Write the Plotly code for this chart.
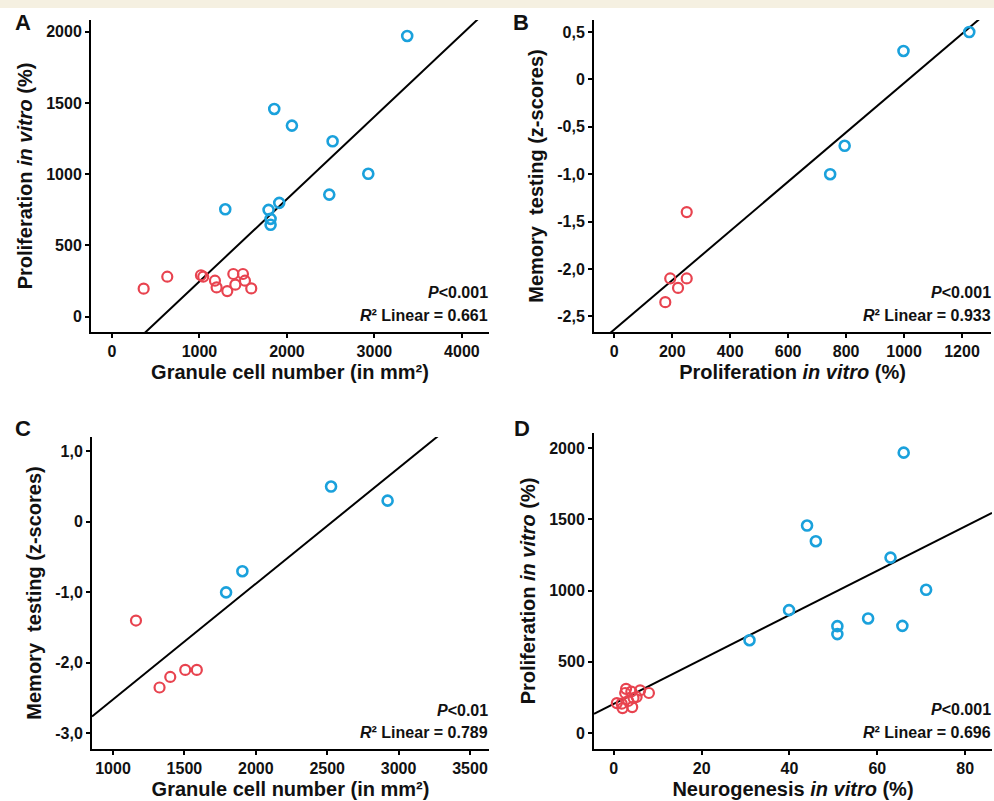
import plotly.graph_objects as go

W, H = 994, 801

# ---------------- data ----------------
# Panel A: granule cell number vs proliferation in vitro
a_blue_x = [3375, 1855, 2057, 2522, 2930, 2484, 1295, 1790, 1912, 1813, 1813]
a_blue_y = [1970, 1458, 1341, 1231, 1003, 857, 754, 750, 799, 687, 645]
a_red_x = [362, 632, 1017, 1043, 1177, 1196, 1318, 1387, 1410, 1497, 1520, 1592]
a_red_y = [197, 281, 291, 281, 253, 206, 180, 300, 225, 300, 253, 199]
a_fit = [-330, 0.578]          # intercept, slope
a_stats = ["P<0.001", "0.661"]

# Panel B: proliferation in vitro vs memory testing
b_blue_x = [1225, 998, 795, 745]
b_blue_y = [0.5, 0.30, -0.70, -1.0]
b_red_x = [250, 193, 250, 220, 176]
b_red_y = [-1.40, -2.10, -2.10, -2.20, -2.35]
b_fit = [-2.639, 0.0026]
b_stats = ["P<0.001", "0.933"]
b_tickvals = [0.5, 0, -0.5, -1.0, -1.5, -2.0, -2.5]
b_ticktext = ["0,5", "0", "-0,5", "-1,0", "-1,5", "-2,0", "-2,5"]

# Panel C: granule cell number vs memory testing
c_blue_x = [2527, 2923, 1906, 1792]
c_blue_y = [0.5, 0.30, -0.70, -1.0]
c_red_x = [1161, 1326, 1401, 1506, 1587]
c_red_y = [-1.40, -2.35, -2.20, -2.10, -2.10]
c_fit = [-4.16, 0.001641]
c_stats = ["P<0.01", "0.789"]
c_tickvals = [1.0, 0, -1.0, -2.0, -3.0]
c_ticktext = ["1,0", "0", "-1,0", "-2,0", "-3,0"]

# Panel D: neurogenesis in vitro vs proliferation in vitro
d_blue_x = [66.0, 44.0, 46.0, 63.0, 71.1, 39.9, 30.9, 50.9, 50.9, 57.9, 65.7]
d_blue_y = [1967, 1456, 1346, 1231, 1005, 862, 651, 750, 694, 804, 752]
d_red_x = [0.7, 8.0, 4.0, 2.6, 5.2, 1.8, 2.0, 6.0, 3.3, 2.8, 4.5, 4.2]
d_red_y = [210, 281, 291, 281, 253, 206, 175, 300, 225, 310, 245, 182]
d_fit = [205, 15.56]
d_stats = ["P<0.001", "0.696"]

# ---------------- styling ----------------
BLUE = "#1aa1dc"
RED = "#e8434f"
FONT = "Liberation Sans, Arial, sans-serif"


def px_x(p):
    return p / W


def px_y(p):
    return 1 - p / H


panels = [
    dict(name="A", bx=a_blue_x, by=a_blue_y, rx=a_red_x, ry=a_red_y, fit=a_fit, stats=a_stats,
         xdom=(91, 489), ydom=(20, 332), xr=(-240, 4310), yr=(-107, 2082),
         xtitle="Granule cell number (in mm²)", ytitle="Proliferation <i>in vitro</i> (%)",
         xticks=dict(tickvals=[0, 1000, 2000, 3000, 4000]),
         yticks=dict(tickvals=[0, 500, 1000, 1500, 2000]),
         letter=(23, 23), ann_x=490, ann_y=(292, 315)),
    dict(name="B", bx=b_blue_x, by=b_blue_y, rx=b_red_x, ry=b_red_y, fit=b_fit, stats=b_stats,
         xdom=(594, 991), ydom=(20, 332), xr=(-70, 1300), yr=(-2.665, 0.627),
         xtitle="Proliferation <i>in vitro</i> (%)", ytitle="Memory  testing (z-scores)",
         xticks=dict(tickvals=[0, 200, 400, 600, 800, 1000, 1200]),
         yticks=dict(tickvals=b_tickvals, ticktext=b_ticktext),
         letter=(521, 23), ann_x=993, ann_y=(292, 315)),
    dict(name="C", bx=c_blue_x, by=c_blue_y, rx=c_red_x, ry=c_red_y, fit=c_fit, stats=c_stats,
         xdom=(92, 489), ydom=(437, 749), xr=(853, 3633), yr=(-3.222, 1.203),
         xtitle="Granule cell number (in mm²)", ytitle="Memory  testing (z-scores)",
         xticks=dict(tickvals=[1000, 1500, 2000, 2500, 3000, 3500]),
         yticks=dict(tickvals=c_tickvals, ticktext=c_ticktext),
         letter=(23, 428), ann_x=490, ann_y=(710, 732)),
    dict(name="D", bx=d_blue_x, by=d_blue_y, rx=d_red_x, ry=d_red_y, fit=d_fit, stats=d_stats,
         xdom=(594, 992), ydom=(433, 749), xr=(-4.5, 86.1), yr=(-112, 2105),
         xtitle="Neurogenesis <i>in vitro</i> (%)", ytitle="Proliferation <i>in vitro</i> (%)",
         xticks=dict(tickvals=[0, 20, 40, 60, 80]),
         yticks=dict(tickvals=[0, 500, 1000, 1500, 2000]),
         letter=(522, 428), ann_x=993, ann_y=(709, 732)),
]

fig = go.Figure()
annotations = []
layout = {}

for i, p in enumerate(panels, start=1):
    sfx = "" if i == 1 else str(i)
    xa, ya = "x" + sfx, "y" + sfx
    # regression line over the axis range (clipped to plot area)
    x0, x1 = p["xr"]
    b0, b1 = p["fit"]
    fig.add_trace(go.Scatter(x=[x0, x1], y=[b0 + b1 * x0, b0 + b1 * x1], mode="lines",
                             line=dict(color="black", width=2), xaxis=xa, yaxis=ya,
                             showlegend=False, hoverinfo="skip"))
    fig.add_trace(go.Scatter(x=p["rx"], y=p["ry"], mode="markers",
                             marker=dict(symbol="circle-open", size=10, color=RED,
                                         line=dict(width=2.2, color=RED)),
                             xaxis=xa, yaxis=ya, showlegend=False))
    fig.add_trace(go.Scatter(x=p["bx"], y=p["by"], mode="markers",
                             marker=dict(symbol="circle-open", size=10, color=BLUE,
                                         line=dict(width=2.6, color=BLUE)),
                             xaxis=xa, yaxis=ya, showlegend=False))
    axis_common = dict(showline=True, linecolor="black", linewidth=2, ticks="outside",
                       ticklen=4, tickwidth=1.5, tickcolor="black", showgrid=False,
                       zeroline=False, mirror=False,
                       tickfont=dict(family=FONT, size=16, color="#111111", weight="bold"))
    layout["xaxis" + sfx] = dict(
        domain=[px_x(p["xdom"][0]), px_x(p["xdom"][1])],
        range=list(p["xr"]), anchor=ya, **axis_common, **p["xticks"],
        title=dict(text=p["xtitle"], standoff=6,
                   font=dict(family=FONT, size=20, color="#111111", weight="bold")))
    layout["yaxis" + sfx] = dict(
        domain=[px_y(p["ydom"][1]), px_y(p["ydom"][0])],
        range=list(p["yr"]), anchor=xa, **axis_common, **p["yticks"],
        title=dict(text=p["ytitle"], standoff=8,
                   font=dict(family=FONT, size=20, color="#111111", weight="bold")))
    # panel letter
    annotations.append(dict(text="<b>%s</b>" % p["name"], x=px_x(p["letter"][0]), y=px_y(p["letter"][1]),
                            xref="paper", yref="paper", showarrow=False, xanchor="center", yanchor="middle",
                            font=dict(family=FONT, size=22, color="#111111")))
    pval = p["stats"][0].replace("P", "").replace("<", "&lt;")
    annotations.append(dict(text="<b><i>P</i>%s</b>" % pval, x=px_x(p["ann_x"]), y=px_y(p["ann_y"][0]),
                            xref="paper", yref="paper", showarrow=False, xanchor="right", yanchor="middle",
                            font=dict(family=FONT, size=16, color="#111111")))
    annotations.append(dict(text="<b><i>R</i>² Linear = %s</b>" % p["stats"][1], x=px_x(p["ann_x"]),
                            y=px_y(p["ann_y"][1]), xref="paper", yref="paper", showarrow=False,
                            xanchor="right", yanchor="middle",
                            font=dict(family=FONT, size=16, color="#111111")))

fig.update_layout(
    width=W, height=H, margin=dict(l=0, r=0, t=0, b=0),
    paper_bgcolor="white", plot_bgcolor="white",
    annotations=annotations,
    shapes=[dict(type="rect", xref="paper", yref="paper", x0=0, x1=1, y0=px_y(8), y1=1,
                 fillcolor="#f5f0e1", line=dict(width=0), layer="below")],
    **layout,
)

fig.write_html("out.html", config={"displayModeBar": False},
               post_script="document.body.style.margin='0';document.body.style.overflow='hidden';")
